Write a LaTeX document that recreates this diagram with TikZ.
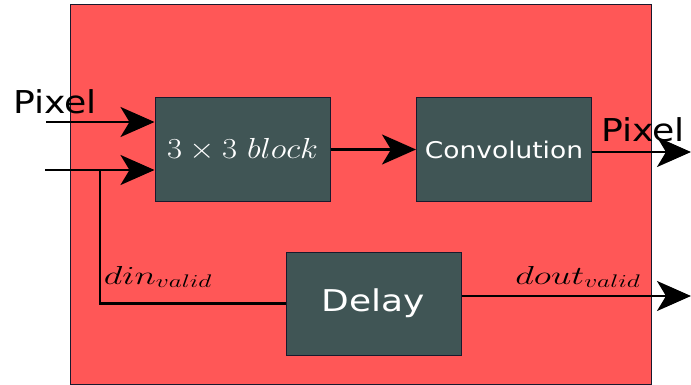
\documentclass[tikz,border=0pt]{standalone}
\usepackage{fix-cm}
\usepackage{graphicx}
\usepackage{fontspec}
\setsansfont{DejaVu Sans}
\usepackage{tikz}
\usetikzlibrary{arrows.meta, positioning, calc}

\definecolor{boardred}{RGB}{255,87,87}
\definecolor{slate}{RGB}{64,85,85}
\definecolor{edge}{RGB}{25,25,45}

% wide text, as the reference shows it
\newcommand{\widetext}[2]{\scalebox{#1}[1]{#2}}

\begin{document}
\begin{tikzpicture}[
    x=1pt, y=-1pt,
    board/.style={rectangle, draw=edge, line width=1pt, fill=boardred,
                  minimum width=581pt, minimum height=379pt, inner sep=0pt},
    unit/.style={rectangle, draw=edge, line width=1pt, fill=slate, text=white,
                 minimum width=175pt, minimum height=103pt, inner sep=0pt},
    sig/.style={line width=2.4pt, draw=black},
    arr/.style={-{Stealth[length=34pt, width=30pt, inset=9pt]}, line width=2.4pt},
    lbl/.style={font=\sffamily\fontsize{31.5}{31.5}\selectfont, inner sep=0pt},
    mlbl/.style={font=\fontsize{26}{26}\selectfont, inner sep=0pt}
]
\useasboundingbox (0,0) rectangle (691,385);
\node[board] (board) at (360.5,194.5) {};

\node[unit, font=\fontsize{29}{29}\selectfont] (blk) at (242.5,149.5)
    {\widetext{1.13}{$3\times 3\ block$}};
\node[unit, font=\sffamily\fontsize{23}{23}\selectfont] (conv) at (504,149.5)
    {\widetext{1.15}{Convolution}};
\node[unit, font=\sffamily\fontsize{30}{30}\selectfont] (delay) at (373.5,303.5)
    {\widetext{1.2}{Delay}};

\coordinate (pin)   at (46,122);
\coordinate (vin)   at (45,170);
\coordinate (split) at (100,170);
\coordinate (pout)  at (691,152);
\coordinate (vout)  at (691,296);

\draw[arr] (pin) -- (pin -| blk.west);
\draw[arr] (vin) -- (vin -| blk.west);
\draw[sig] (split) |- (delay.west);
\draw[arr] (blk) -- (conv);
\draw[arr] (pout -| conv.east) -- (pout);
\draw[arr] (vout -| delay.east) -- (vout);

\node[lbl]  (pinlbl)  at (55,102)  {\widetext{1.15}{Pixel}};
\node[lbl]  (poutlbl) at (643,130) {\widetext{1.15}{Pixel}};
\node[mlbl] (dinlbl)  at (158,277) {\widetext{1.4}{$din_{valid}$}};
\node[mlbl] (doutlbl) at (578,277) {\widetext{1.4}{$dout_{valid}$}};
\end{tikzpicture}
\end{document}
